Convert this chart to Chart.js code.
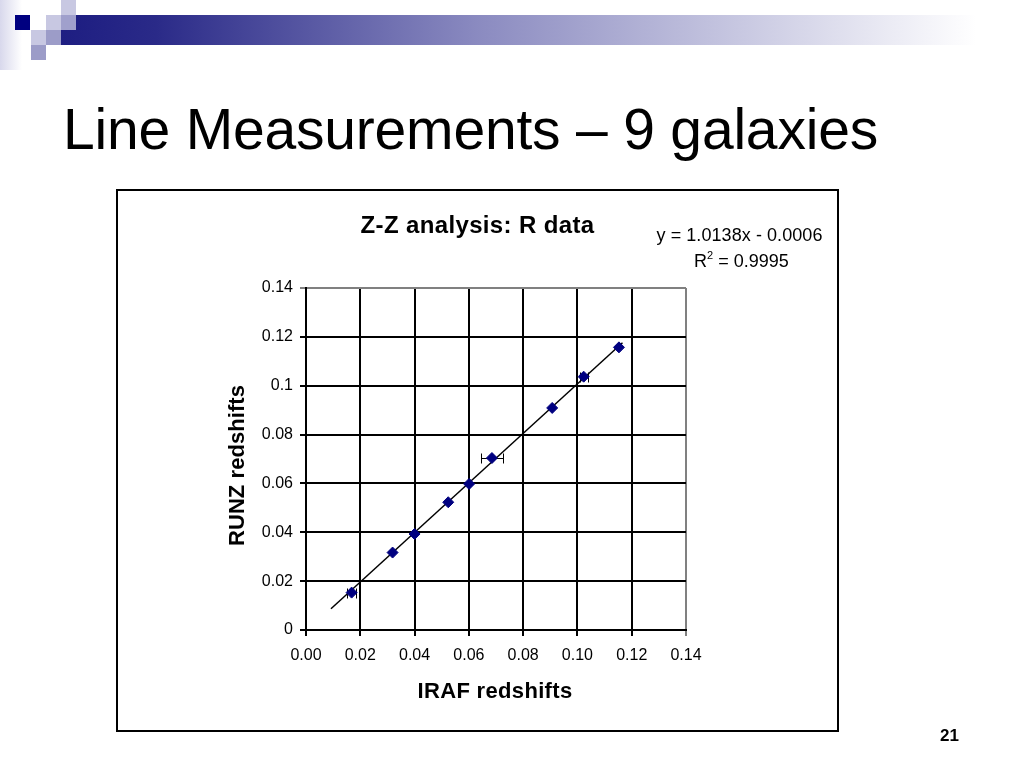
<!DOCTYPE html>
<html><head><meta charset="utf-8">
<script src="https://cdn.jsdelivr.net/npm/chart.js@4.4.1/dist/chart.umd.min.js"></script>
<style>
html,body{margin:0;padding:0;background:#fff;}
body{width:1024px;height:768px;position:relative;overflow:hidden;font-family:"Liberation Sans",Arial,sans-serif;}
.t{position:absolute;white-space:nowrap;line-height:1;color:#000;}
.sq{position:absolute;width:15px;height:15px;}
#box{position:absolute;left:116px;top:189px;width:723px;height:543px;box-sizing:border-box;border:2px solid #000;background:#fff;}
#c{position:absolute;left:0;top:0;}
</style></head><body>
<div style="position:absolute;left:0;top:0;width:70px;height:70px;background:linear-gradient(90deg,#d8d8ec 0,#fff 22px);"></div>
<div style="position:absolute;left:76px;top:15px;width:948px;height:15px;background:linear-gradient(90deg,#1e1e82 0,#2a2a88 80px,#8a8ac0 400px,#fff 900px);"></div>
<div style="position:absolute;left:61px;top:30px;width:963px;height:15px;background:linear-gradient(90deg,#1e1e82 0,#2a2a88 95px,#8a8ac0 415px,#fff 915px);"></div>
<div class="sq" style="left:15px;top:15px;background:#000080"></div>
<div class="sq" style="left:46px;top:15px;background:#c8c8e2"></div>
<div class="sq" style="left:61px;top:15px;background:#a0a0cc"></div>
<div class="sq" style="left:61px;top:0px;background:#c8c8e2"></div>
<div class="sq" style="left:31px;top:30px;background:#c8c8e2"></div>
<div class="sq" style="left:46px;top:30px;background:#9c9cc8"></div>
<div class="sq" style="left:31px;top:45px;background:#9c9cc8"></div>
<div id="box"></div>
<canvas id="c" width="1024" height="768"></canvas>
<script>
// ---- data ----
const irafX = [0.0168, 0.0319, 0.0400, 0.0524, 0.0601, 0.0685, 0.0907, 0.1023, 0.1153];
const runzY = [0.0153, 0.0317, 0.0393, 0.0523, 0.0598, 0.0704, 0.0909, 0.1037, 0.1157];
const irafErr = [0.0018, 0, 0, 0, 0, 0.0042, 0, 0.0015, 0];
const trendX = [0.0092, 0.1166];
const trendY = [0.0087, 0.1176];
const xTickLabels = ['0.00','0.02','0.04','0.06','0.08','0.10','0.12','0.14'];
const yTickLabels = ['0','0.02','0.04','0.06','0.08','0.1','0.12','0.14'];

const FONT = '"Liberation Sans", Arial, sans-serif';
const mctx = document.createElement('canvas').getContext('2d');
function addText(html, o) {
  const d = document.createElement('div');
  d.className = 't';
  d.innerHTML = html;
  d.style.fontSize = o.size + 'px';
  d.style.fontWeight = o.bold ? 'bold' : 'normal';
  if (o.width) {
    mctx.font = (o.bold ? 'bold ' : '') + o.size + 'px ' + FONT;
    const w = mctx.measureText(d.textContent).width;
    const n = d.textContent.length;
    d.style.letterSpacing = ((o.width - w) / n) + 'px';
  }
  const asc = 0.8465 * o.size;
  if (o.rotate) {
    d.style.transformOrigin = 'left top';
    d.style.transform = 'rotate(-90deg)';
    d.style.left = (o.x - asc) + 'px';
    d.style.top = o.y + 'px';
  } else {
    d.style.left = o.x + 'px';
    d.style.top = (o.y - asc) + 'px';
  }
  document.body.appendChild(d);
  return d;
}
addText('Line Measurements – 9 galaxies', {x: 63, y: 149, size: 57, width: 815});
addText('Z-Z analysis: R data', {x: 360.5, y: 233, size: 24, bold: true, width: 234});
addText('y = 1.0138x - 0.0006', {x: 656.5, y: 241, size: 18, width: 166});
addText('R<sup style="font-size:11px;vertical-align:8px">2</sup> = 0.9995', {x: 694, y: 265, size: 18});
addText('IRAF redshifts', {x: 417.5, y: 699, size: 22, bold: true, width: 155});
addText('RUNZ redshifts', {x: 245, y: 546, size: 22, bold: true, width: 161, rotate: true});
addText('21', {x: 940, y: 741, size: 17, bold: true});

const errorBars = {
  id: 'errorBars',
  beforeDatasetsDraw(chart) {
    const {ctx, scales: {x, y}} = chart;
    ctx.save();
    ctx.strokeStyle = '#000';
    ctx.lineWidth = 1;
    irafX.forEach((v, i) => {
      const e = irafErr[i];
      if (!e) return;
      const py = Math.round(y.getPixelForValue(runzY[i])) + 0.5;
      const x1 = Math.round(x.getPixelForValue(v - e)) + 0.5;
      const x2 = Math.round(x.getPixelForValue(v + e)) + 0.5;
      ctx.beginPath();
      ctx.moveTo(x1, py); ctx.lineTo(x2, py);
      ctx.moveTo(x1, py - 5); ctx.lineTo(x1, py + 5);
      ctx.moveTo(x2, py - 5); ctx.lineTo(x2, py + 5);
      ctx.stroke();
    });
    ctx.restore();
  }
};

Chart.defaults.font.family = FONT;
Chart.defaults.color = '#000';
new Chart(document.getElementById('c'), {
  type: 'scatter',
  data: {
    datasets: [
      {
        label: 'R data',
        data: irafX.map((v, i) => ({x: v, y: runzY[i]})),
        pointStyle: 'rectRot',
        pointRadius: 5.5,
        pointBorderWidth: 1,
        backgroundColor: '#000080',
        borderColor: '#000080'
      },
      {
        label: 'Linear trend',
        data: trendX.map((v, i) => ({x: v, y: trendY[i]})),
        showLine: true,
        pointRadius: 0,
        borderColor: '#000',
        borderWidth: 1.5
      }
    ]
  },
  options: {
    responsive: false,
    animation: false,
    devicePixelRatio: 1,
    layout: {padding: {left: 216, top: 288, right: 338, bottom: 58}},
    plugins: {legend: {display: false}, tooltip: {enabled: false}, title: {display: false}},
    scales: {
      x: {
        type: 'linear', min: 0, max: 0.14,
        afterFit(s) { s.height = 80; },
        ticks: {stepSize: 0.02, padding: 10, font: {size: 16}, maxRotation: 0,
          callback: (v, i) => xTickLabels[i]},
        grid: {color: c => c.index === 7 ? '#808080' : '#000', lineWidth: 2, tickLength: 6},
        border: {color: '#000', width: 2}
      },
      y: {
        type: 'linear', min: 0, max: 0.14,
        afterFit(s) { s.width = 90; },
        ticks: {stepSize: 0.02, padding: 7, font: {size: 16},
          callback: (v, i) => yTickLabels[i]},
        grid: {color: c => c.index === 7 ? '#808080' : '#000', lineWidth: 2, tickLength: 6},
        border: {color: '#000', width: 2}
      }
    }
  },
  plugins: [errorBars]
});
</script>
</body></html>
